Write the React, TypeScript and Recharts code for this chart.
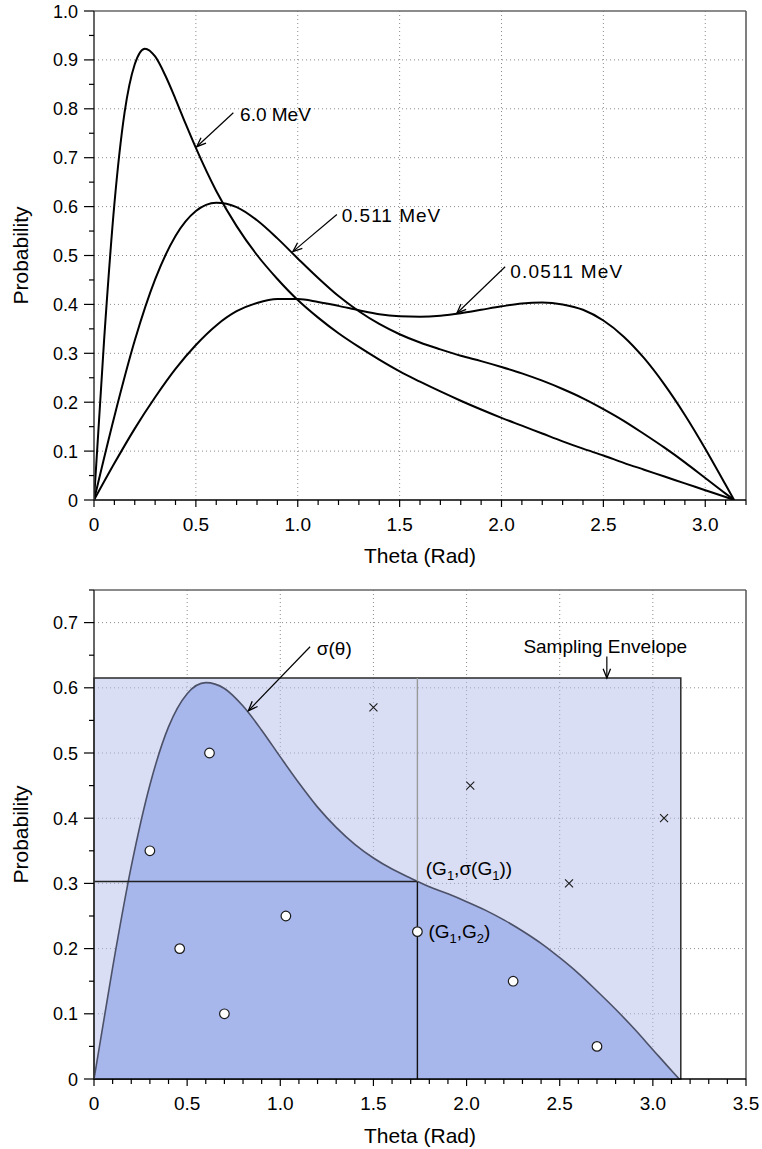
import React from 'react';
import {
  ComposedChart, Line, Area, Scatter, XAxis, YAxis, CartesianGrid,
  ReferenceLine, ReferenceArea, ReferenceDot,
} from 'recharts';

const FONT = '"Liberation Sans", Arial, Helvetica, sans-serif';

// ──────────────────────────────────────────────
// Top panel: angular distributions per photon energy
// ──────────────────────────────────────────────

const thetaFine = [
  0, 0.05, 0.1, 0.15, 0.2, 0.25, 0.3, 0.35, 0.4, 0.45, 0.5,
  0.6, 0.7, 0.8, 0.9, 1.0, 1.1, 1.2, 1.3, 1.4, 1.5, 1.6, 1.7, 1.8, 1.9,
  2.0, 2.1, 2.2, 2.3, 2.4, 2.5, 2.6, 2.7, 2.8, 2.9, 3.0, 3.1, 3.1416,
];
const p6MeV = [
  0, 0.330, 0.605, 0.792, 0.891, 0.923, 0.907, 0.868, 0.820, 0.769, 0.720,
  0.632, 0.560, 0.501, 0.452, 0.409, 0.373, 0.341, 0.313, 0.287, 0.263, 0.242, 0.222, 0.203, 0.185,
  0.168, 0.152, 0.136, 0.120, 0.105, 0.091, 0.076, 0.062, 0.048, 0.034, 0.020, 0.006, 0,
];

const thetaCoarse = [
  0, 0.1, 0.2, 0.3, 0.4, 0.5, 0.6, 0.7, 0.8, 0.9, 1.0, 1.1, 1.2, 1.3, 1.4, 1.5,
  1.6, 1.7, 1.8, 1.9, 2.0, 2.1, 2.2, 2.3, 2.4, 2.5, 2.6, 2.7, 2.8, 2.9, 3.0, 3.1, 3.1416,
];
const p511keV = [
  0, 0.171, 0.326, 0.451, 0.540, 0.591, 0.608, 0.599, 0.572, 0.535, 0.494, 0.454, 0.417, 0.386, 0.360, 0.339,
  0.322, 0.308, 0.295, 0.284, 0.272, 0.259, 0.244, 0.227, 0.208, 0.186, 0.162, 0.135, 0.107, 0.077, 0.045, 0.013, 0,
];
const p51keV = [
  0, 0.075, 0.146, 0.210, 0.268, 0.317, 0.357, 0.386, 0.403, 0.411, 0.411, 0.405, 0.397, 0.388, 0.380, 0.376,
  0.375, 0.377, 0.382, 0.389, 0.396, 0.402, 0.404, 0.400, 0.389, 0.367, 0.334, 0.290, 0.236, 0.174, 0.105, 0.031, 0,
];

const topXTicks = [
  0, 0.1, 0.2, 0.3, 0.4, 0.5, 0.6, 0.7, 0.8, 0.9, 1.0, 1.1, 1.2, 1.3, 1.4, 1.5, 1.6,
  1.7, 1.8, 1.9, 2.0, 2.1, 2.2, 2.3, 2.4, 2.5, 2.6, 2.7, 2.8, 2.9, 3.0, 3.1, 3.2,
];
const topYTicks = [
  0, 0.05, 0.1, 0.15, 0.2, 0.25, 0.3, 0.35, 0.4, 0.45, 0.5,
  0.55, 0.6, 0.65, 0.7, 0.75, 0.8, 0.85, 0.9, 0.95, 1.0,
];
const topXGrid = [0.5, 1.0, 1.5, 2.0, 2.5, 3.0];
const topYGrid = [0.1, 0.2, 0.3, 0.4, 0.5, 0.6, 0.7, 0.8, 0.9];

// ──────────────────────────────────────────────
// Bottom panel: rejection sampling
// ──────────────────────────────────────────────

const bottomXTicks = [
  0, 0.1, 0.2, 0.3, 0.4, 0.5, 0.6, 0.7, 0.8, 0.9, 1.0, 1.1, 1.2, 1.3, 1.4, 1.5, 1.6, 1.7,
  1.8, 1.9, 2.0, 2.1, 2.2, 2.3, 2.4, 2.5, 2.6, 2.7, 2.8, 2.9, 3.0, 3.1, 3.2, 3.3, 3.4, 3.5,
];
const bottomYTicks = [
  0, 0.05, 0.1, 0.15, 0.2, 0.25, 0.3, 0.35, 0.4, 0.45, 0.5, 0.55, 0.6, 0.65, 0.7, 0.75,
];
const bottomXGrid = [0.5, 1.0, 1.5, 2.0, 2.5, 3.0];
const bottomYGrid = [0.1, 0.2, 0.3, 0.4, 0.5, 0.6, 0.7];

const envelopeMaxTheta = 3.15;
const envelopeHeight = 0.615;
const g1 = 1.736;
const sigmaG1 = 0.303;
const g2 = 0.226;

const acceptedTheta = [0.30, 0.46, 0.62, 0.70, 1.03, g1, 2.25, 2.70];
const acceptedP = [0.35, 0.20, 0.50, 0.10, 0.25, g2, 0.15, 0.05];
const rejectedTheta = [1.50, 2.02, 2.55, 3.06];
const rejectedP = [0.57, 0.45, 0.30, 0.40];

// annotation arrows (tail → head) and label anchors, in data units
const topArrows = [
  { from: [0.684, 0.792], to: [0.504, 0.7225] },
  { from: [1.192, 0.584], to: [0.976, 0.508] },
  { from: [2.018, 0.477], to: [1.781, 0.382] },
];
const topLabels = [
  { text: '6.0 MeV', at: [0.717, 0.775], spacing: 0 },
  { text: '0.511 MeV', at: [1.216, 0.5675], spacing: 1 },
  { text: '0.0511 MeV', at: [2.043, 0.4534], spacing: 1.2 },
];
const bottomArrows = [
  { from: [1.160, 0.663], to: [0.829, 0.565] },
  { from: [2.753, 0.648], to: [2.753, 0.615] },
];

const toPoints = (xs: number[], ys: number[]) => xs.map((t, i) => ({ theta: t, p: ys[i] }));

const curve6 = toPoints(thetaFine, p6MeV);
const curve511 = toPoints(thetaCoarse, p511keV);
const curve51 = toPoints(thetaCoarse, p51keV);
const accepted = toPoints(acceptedTheta, acceptedP);
const rejected = toPoints(rejectedTheta, rejectedP);

// ──────────────────────────────────────────────
// Ticks and shapes
// ──────────────────────────────────────────────

const isMultiple = (v: number, step: number) => Math.abs(v / step - Math.round(v / step)) < 1e-6;
const fmt = (v: number) => (Math.abs(v) < 1e-9 ? '0' : v.toFixed(1));

function makeXTick(step: number) {
  return (props: any) => {
    const { x, y, payload } = props;
    const major = isMultiple(payload.value, step);
    return (
      <g>
        <line x1={x} x2={x} y1={y} y2={y + (major ? 7 : 5)} stroke="#000" strokeWidth={1.2} />
        {major && (
          <text x={x} y={y + 31} textAnchor="middle" fontSize={19} fontFamily={FONT} fill="#000">
            {fmt(payload.value)}
          </text>
        )}
      </g>
    );
  };
}

function makeYTick(step: number) {
  return (props: any) => {
    const { x, y, payload } = props;
    const major = isMultiple(payload.value, step);
    return (
      <g>
        <line x1={x} x2={x - (major ? 10 : 5)} y1={y} y2={y} stroke="#000" strokeWidth={1.2} />
        {major && (
          <text x={x - 16} y={y + 6.5} textAnchor="end" fontSize={18} fontFamily={FONT} fill="#000">
            {fmt(payload.value)}
          </text>
        )}
      </g>
    );
  };
}

const arrowShape = (props: any) => {
  const { x1, y1, x2, y2 } = props;
  const ang = Math.atan2(y2 - y1, x2 - x1);
  const len = 10;
  const spread = 0.38;
  const ax = x2 - len * Math.cos(ang - spread);
  const ay = y2 - len * Math.sin(ang - spread);
  const bx = x2 - len * Math.cos(ang + spread);
  const by = y2 - len * Math.sin(ang + spread);
  return (
    <g>
      <line x1={x1} y1={y1} x2={x2} y2={y2} stroke="#000" strokeWidth={1.2} />
      <path d={`M${ax},${ay}L${x2},${y2}L${bx},${by}`} fill="none" stroke="#000" strokeWidth={1.3} />
    </g>
  );
};

const textShape = (text: string, spacing = 0) => (props: any) => (
  <text x={props.cx} y={props.cy} fontSize={19} fontFamily={FONT} fill="#000" letterSpacing={spacing}>
    {text}
  </text>
);

const subLabelShape = (kind: 'sigma' | 'g2') => (props: any) => (
  <text x={props.cx} y={props.cy} fontSize={19} fontFamily={FONT} fill="#000">
    <tspan>(G</tspan>
    <tspan fontSize={13} dy={5}>1</tspan>
    {kind === 'sigma' ? (
      <>
        <tspan dy={-5}>,σ(G</tspan>
        <tspan fontSize={13} dy={5}>1</tspan>
        <tspan dy={-5}>))</tspan>
      </>
    ) : (
      <>
        <tspan dy={-5}>,G</tspan>
        <tspan fontSize={13} dy={5}>2</tspan>
        <tspan dy={-5}>)</tspan>
      </>
    )}
  </text>
);

const circleShape = (props: any) => (
  <circle cx={props.cx} cy={props.cy} r={4.8} fill="#fff" stroke="#1a1a1a" strokeWidth={1.2} />
);

const crossShape = (props: any) => {
  const { cx, cy } = props;
  const s = 4;
  return (
    <path
      d={`M${cx - s},${cy - s}L${cx + s},${cy + s}M${cx - s},${cy + s}L${cx + s},${cy - s}`}
      stroke="#1a1a1a"
      strokeWidth={1.1}
    />
  );
};

const axisTitleX = (y: number) => () => (
  <text x={420} y={y} textAnchor="middle" fontSize={21} fontFamily={FONT} fill="#000">
    Theta (Rad)
  </text>
);

const axisTitleY = (cy: number) => () => (
  <text
    x={28}
    y={cy}
    transform={`rotate(-90 28 ${cy})`}
    textAnchor="middle"
    fontSize={21}
    fontFamily={FONT}
    fill="#000"
  >
    Probability
  </text>
);

// ──────────────────────────────────────────────
// Panels
// ──────────────────────────────────────────────

function TopPanel() {
  return (
    <ComposedChart width={762} height={575} margin={{ top: 11, right: 16, bottom: 0, left: 0 }}>
      <CartesianGrid
        stroke="#8c8c8c"
        strokeDasharray="1 3"
        horizontalValues={topYGrid}
        verticalValues={topXGrid}
      />
      <XAxis
        type="number"
        dataKey="theta"
        domain={[0, 3.2]}
        ticks={topXTicks}
        interval={0}
        allowDataOverflow
        tickSize={0}
        tickMargin={0}
        tickLine={false}
        tick={makeXTick(0.5)}
        axisLine={{ stroke: '#000', strokeWidth: 1.5 }}
        height={75}
        label={{ content: axisTitleX(563) }}
      />
      <YAxis
        type="number"
        domain={[0, 1]}
        ticks={topYTicks}
        interval={0}
        allowDataOverflow
        tickSize={0}
        tickMargin={0}
        tickLine={false}
        tick={makeYTick(0.1)}
        axisLine={{ stroke: '#333', strokeWidth: 1.5 }}
        width={94}
        label={{ content: axisTitleY(255.5) }}
      />
      <ReferenceLine y={1} stroke="#666" strokeWidth={1.5} />
      <ReferenceLine x={3.2} stroke="#555" strokeWidth={1.5} />

      <Line data={curve6} dataKey="p" type="monotone" stroke="#000" strokeWidth={2} dot={false} isAnimationActive={false} />
      <Line data={curve511} dataKey="p" type="monotone" stroke="#000" strokeWidth={2} dot={false} isAnimationActive={false} />
      <Line data={curve51} dataKey="p" type="monotone" stroke="#000" strokeWidth={2} dot={false} isAnimationActive={false} />

      {topArrows.map((a, i) => (
        <ReferenceLine
          key={`ta${i}`}
          segment={[{ x: a.from[0], y: a.from[1] }, { x: a.to[0], y: a.to[1] }]}
          shape={arrowShape}
        />
      ))}
      {topLabels.map((l, i) => (
        <ReferenceDot key={`tl${i}`} x={l.at[0]} y={l.at[1]} r={1} shape={textShape(l.text, l.spacing)} />
      ))}
    </ComposedChart>
  );
}

function BottomPanel() {
  return (
    <ComposedChart width={762} height={574} margin={{ top: 15, right: 16, bottom: 0, left: 0 }}>
      {/* half-transparent so the dotted grid reads through it either way */}
      <ReferenceArea
        x1={0}
        x2={envelopeMaxTheta}
        y1={0}
        y2={envelopeHeight}
        fill="#b3bdea"
        fillOpacity={0.5}
        stroke="#2a2a2a"
        strokeWidth={1.5}
      />
      <CartesianGrid
        stroke="#8c8c8c"
        strokeDasharray="1 3"
        horizontalValues={bottomYGrid}
        verticalValues={bottomXGrid}
      />
      <XAxis
        type="number"
        dataKey="theta"
        domain={[0, 3.5]}
        ticks={bottomXTicks}
        interval={0}
        allowDataOverflow
        tickSize={0}
        tickMargin={0}
        tickLine={false}
        tick={makeXTick(0.5)}
        axisLine={{ stroke: '#000', strokeWidth: 1.5 }}
        height={70}
        label={{ content: axisTitleX(568) }}
      />
      <YAxis
        type="number"
        domain={[0, 0.75]}
        ticks={bottomYTicks}
        interval={0}
        allowDataOverflow
        tickSize={0}
        tickMargin={0}
        tickLine={false}
        tick={makeYTick(0.1)}
        axisLine={{ stroke: '#333', strokeWidth: 1.5 }}
        width={94}
        label={{ content: axisTitleY(259.5) }}
      />
      <ReferenceLine y={0.75} stroke="#666" strokeWidth={1.5} />
      <ReferenceLine x={3.5} stroke="#555" strokeWidth={1.5} />

      <Area
        data={curve511}
        dataKey="p"
        type="monotone"
        fill="#a7b6eb"
        fillOpacity={1}
        stroke="#4c5168"
        strokeWidth={1.6}
        dot={false}
        activeDot={false}
        isAnimationActive={false}
      />

      <ReferenceLine segment={[{ x: 0, y: sigmaG1 }, { x: g1, y: sigmaG1 }]} stroke="#222" strokeWidth={1.4} />
      <ReferenceLine segment={[{ x: g1, y: 0 }, { x: g1, y: sigmaG1 }]} stroke="#111" strokeWidth={1.4} />
      <ReferenceLine segment={[{ x: g1, y: sigmaG1 }, { x: g1, y: envelopeHeight }]} stroke="#999" strokeWidth={1.4} />

      <Scatter data={rejected} dataKey="p" shape={crossShape} isAnimationActive={false} />
      <Scatter data={accepted} dataKey="p" shape={circleShape} isAnimationActive={false} />

      {bottomArrows.map((a, i) => (
        <ReferenceLine
          key={`ba${i}`}
          segment={[{ x: a.from[0], y: a.from[1] }, { x: a.to[0], y: a.to[1] }]}
          shape={arrowShape}
        />
      ))}
      <ReferenceDot x={1.196} y={0.650} r={1} shape={textShape('σ(θ)')} />
      <ReferenceDot x={2.305} y={0.653} r={1} shape={textShape('Sampling Envelope')} />
      <ReferenceDot x={1.781} y={0.313} r={1} shape={subLabelShape('sigma')} />
      <ReferenceDot x={1.795} y={0.2163} r={1} shape={subLabelShape('g2')} />
    </ComposedChart>
  );
}

export default function App() {
  return (
    <div style={{ position: 'absolute', left: 0, top: 0, width: 762, height: 1149, background: '#fff' }}>
      <div style={{ position: 'absolute', left: 0, top: 0 }}>
        <TopPanel />
      </div>
      <div style={{ position: 'absolute', left: 0, top: 575 }}>
        <BottomPanel />
      </div>
    </div>
  );
}
